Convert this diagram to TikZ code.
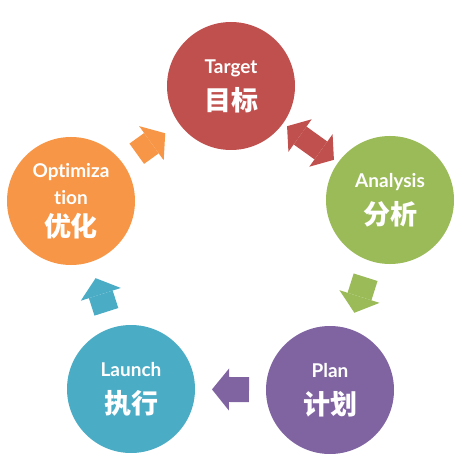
\documentclass[tikz,border=0pt]{standalone}
\usepackage{fontspec}
\setmainfont{Lato}[Ligatures=NoCommon]
\newfontfamily\cjk{Noto Sans CJK SC}
\usetikzlibrary{arrows.meta}
\definecolor{targetred}{HTML}{C0504D}
\definecolor{analysisgreen}{HTML}{9BBB59}
\definecolor{planpurple}{HTML}{8064A2}
\definecolor{launchblue}{HTML}{4BACC6}
\definecolor{optimorange}{HTML}{F79646}
\newcommand{\zh}[1]{{\cjk\bfseries\fontsize{27}{30}\selectfont #1}}
\begin{document}
\begin{tikzpicture}[x=1pt, y=-1pt,
    phase/.style={circle, minimum size=128pt, inner sep=0pt, outer sep=0pt, text=white, align=center, font=\bfseries\fontsize{19}{27}\selectfont},
    step arrow/.style={line width=25pt, -{Triangle[width=42pt, length=17pt, line width'=0pt]}, shorten <=17pt, shorten >=17pt},
    twoway/.style={line width=22pt, {Triangle[width=40pt, length=16pt, line width'=0pt]}-{Triangle[width=40pt, length=16pt, line width'=0pt]}, shorten <=5pt, shorten >=5pt}]
            \useasboundingbox (0,0) rectangle (464,460);
            \node(target) at (231,86) [phase, fill=targetred] {Target\\[10pt]\zh{目标}};
            \node(analysis) at (390,200) [phase, fill=analysisgreen] {Analysis\\[10pt]\zh{分析}};
            \node(plan) at (330,390) [phase, fill=planpurple] {Plan\\[10pt]\zh{计划}};
            \node(launch) at (131,389) [phase, fill=launchblue] {Launch\\[10pt]\zh{执行}};
            \node(optim) at (71,201) [phase, fill=optimorange] {Optimiza\\[0pt]tion\\[5pt]\zh{优化}};

            \draw[twoway, targetred] (target) -- (analysis);
            \draw[step arrow, analysisgreen] (analysis) -- (plan);
            \draw[step arrow, planpurple] (plan) -- (launch);
            \draw[step arrow, launchblue] (launch) -- (optim);
            \draw[step arrow, optimorange] (optim) -- (target);
        \end{tikzpicture}
\end{document}
